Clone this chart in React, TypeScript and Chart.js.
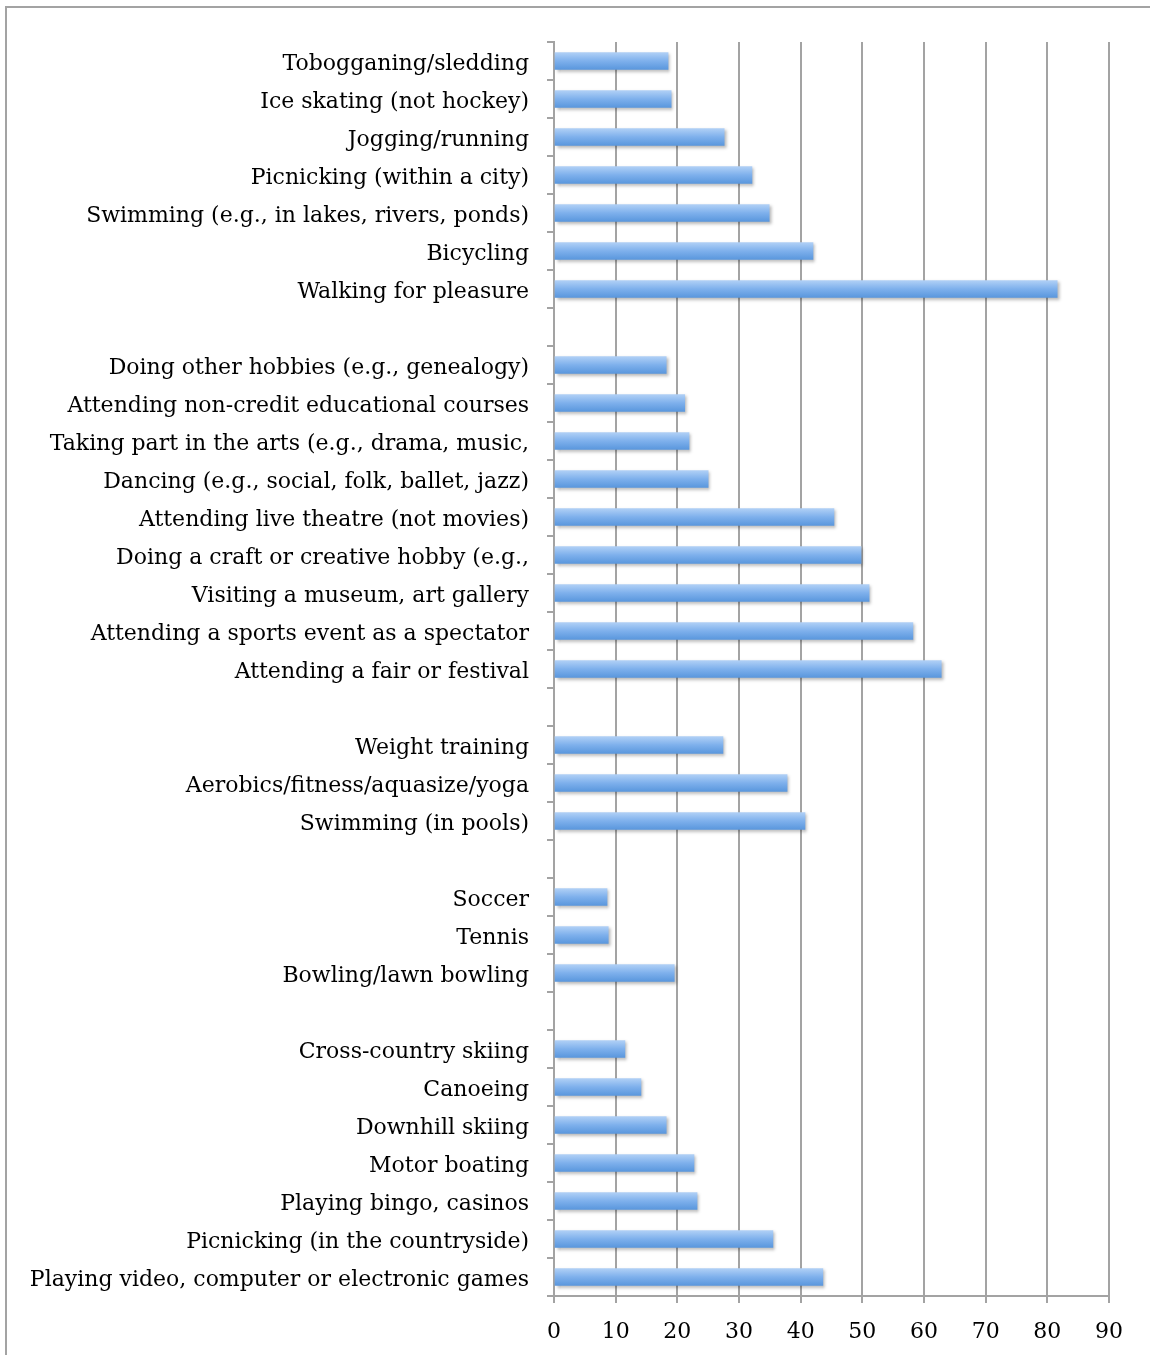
import React, { useEffect, useRef } from "react";
import { Chart, registerables } from "chart.js";

Chart.register(...registerables);

const categories: string[] = [
  "Tobogganing/sledding",
  "Ice skating (not hockey)",
  "Jogging/running",
  "Picnicking (within a city)",
  "Swimming (e.g., in lakes, rivers, ponds)",
  "Bicycling",
  "Walking for pleasure",
  "",
  "Doing other hobbies (e.g., genealogy)",
  "Attending non-credit educational courses",
  "Taking part in the arts (e.g., drama, music,",
  "Dancing (e.g., social, folk, ballet, jazz)",
  "Attending live theatre (not movies)",
  "Doing a craft or creative hobby (e.g.,",
  "Visiting a museum, art gallery",
  "Attending a sports event as a spectator",
  "Attending a fair or festival",
  "",
  "Weight training",
  "Aerobics/fitness/aquasize/yoga",
  "Swimming (in pools)",
  "",
  "Soccer",
  "Tennis",
  "Bowling/lawn bowling",
  "",
  "Cross-country skiing",
  "Canoeing",
  "Downhill skiing",
  "Motor boating",
  "Playing bingo, casinos",
  "Picnicking (in the countryside)",
  "Playing video, computer or electronic games",
];

const values: (number | null)[] = [
  18.5, 19.0, 27.6, 32.1, 34.9, 42.0, 81.6,
  null,
  18.2, 21.2, 21.9, 25.0, 45.4, 49.8, 51.1, 58.2, 62.8,
  null,
  27.4, 37.8, 40.7,
  null,
  8.6, 8.8, 19.5,
  null,
  11.5, 14.1, 18.2, 22.7, 23.2, 35.5, 43.6,
];

const xMin = 0;
const xMax = 90;
const xStep = 10;

const FONT = "'DejaVu Serif', serif";
const GRID = "#a3a3a3";
const BAR_H = 17;

export default function App() {
  const ref = useRef<HTMLCanvasElement | null>(null);

  useEffect(() => {
    document.body.style.margin = "0";
    const canvas = ref.current;
    if (!canvas) return;

    const shadowPlugin = {
      id: "barShadow",
      beforeDatasetDraw(chart: any) {
        const c = chart.ctx;
        c.save();
        c.shadowColor = "rgba(0,0,0,0.28)";
        c.shadowBlur = 3;
        c.shadowOffsetX = 2;
        c.shadowOffsetY = 2;
      },
      afterDatasetDraw(chart: any) {
        chart.ctx.restore();
      },
    };

    const chart = new Chart(canvas, {
      type: "bar",
      data: {
        labels: categories,
        datasets: [
          {
            data: values as any,
            barThickness: BAR_H,
            borderWidth: 0,
            backgroundColor: (ctx: any) => {
              const ch = ctx.chart;
              const ys = ch.scales && ch.scales.y;
              if (!ys || ctx.dataIndex === undefined) return "#7eb0ec";
              const cy = ys.getPixelForValue(ctx.dataIndex);
              if (!isFinite(cy)) return "#7eb0ec";
              const g = ch.ctx.createLinearGradient(0, cy - BAR_H / 2, 0, cy + BAR_H / 2);
              g.addColorStop(0, "#b0d0f6");
              g.addColorStop(0.5, "#7eb0ec");
              g.addColorStop(1, "#5a97dd");
              return g;
            },
          },
        ],
      },
      options: {
        indexAxis: "y",
        responsive: false,
        animation: false,
        devicePixelRatio: 1,
        layout: { padding: { top: 42, right: 41, bottom: 0, left: 0 } },
        plugins: {
          legend: { display: false },
          tooltip: { enabled: false },
        },
        scales: {
          x: {
            type: "linear",
            min: xMin,
            max: xMax,
            ticks: {
              stepSize: xStep,
              color: "#000",
              font: { family: FONT, size: 22 },
              padding: 16,
              maxRotation: 0,
            },
            grid: { color: GRID, lineWidth: 2, tickLength: 7 },
            border: { color: GRID, width: 2 },
            afterFit: (s: any) => {
              s.height = 59;
            },
          },
          y: {
            type: "category",
            ticks: {
              autoSkip: false,
              color: "#000",
              font: { family: FONT, size: 22 },
              padding: 18,
              labelOffset: 3,
            },
            grid: {
              offset: true,
              drawOnChartArea: false,
              color: GRID,
              lineWidth: 2,
              tickLength: 7,
            },
            border: { color: GRID, width: 2 },
            afterFit: (s: any) => {
              s.width = 554;
            },
          },
        },
      } as any,
      plugins: [shadowPlugin],
    });

    return () => chart.destroy();
  }, []);

  return (
    <div style={{ position: "relative", width: 1150, height: 1355, overflow: "hidden", background: "#fff" }}>
      <div
        style={{
          position: "absolute",
          left: 5,
          top: 6,
          width: 1300,
          height: 1500,
          borderLeft: "2px solid #a3a3a3",
          borderTop: "2px solid #a3a3a3",
        }}
      />
      <canvas
        ref={ref}
        width={1150}
        height={1355}
        style={{ position: "absolute", left: 0, top: 0, width: 1150, height: 1355 }}
      />
    </div>
  );
}
